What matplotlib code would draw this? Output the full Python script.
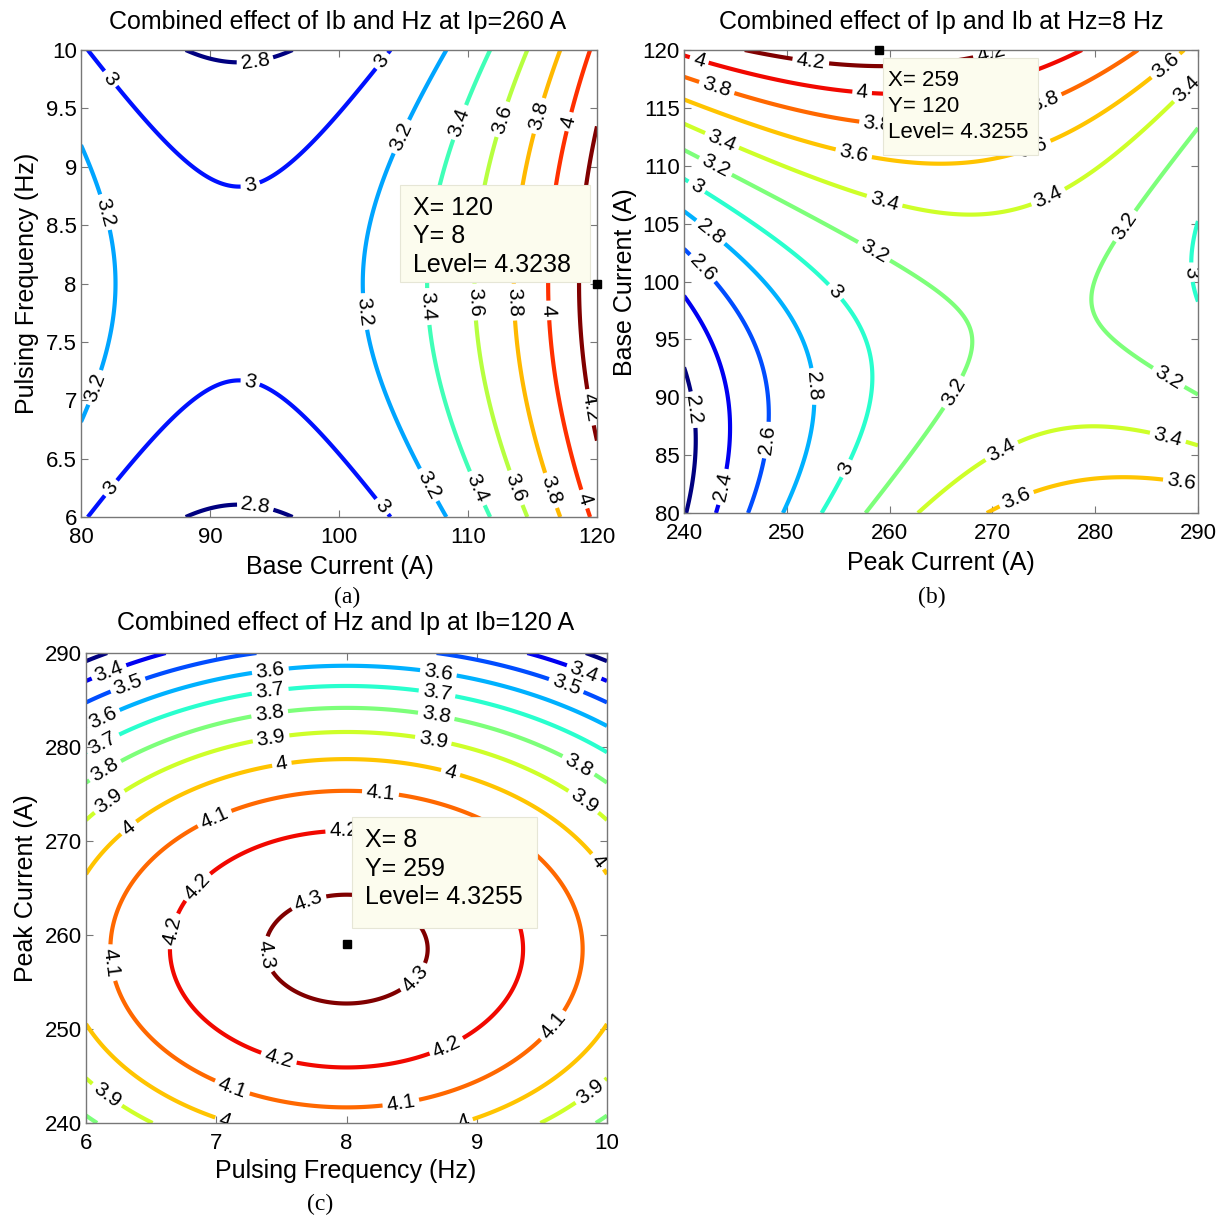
import numpy as np
import matplotlib.pyplot as plt
from matplotlib.patches import Rectangle
from matplotlib.ticker import FormatStrFormatter

plt.rcParams['font.family'] = ['Liberation Sans', 'DejaVu Sans']

# fitted response surface, coded about Ip=260 A, Ib=100 A, Hz=8 Hz
centre = {'Ip': 260.0, 'Ib': 100.0, 'Hz': 8.0}
b0 = 3.147
b_lin = {'Ip': 0.0186, 'Ib': 0.0257, 'Hz': 0.0}
b_sq = {'Ip': -0.0008, 'Ib': 0.00166, 'Hz': -0.069}
b_ip_ib = -0.00105

ip_range = [240, 290]
ib_range = [80, 120]
hz_range = [6, 10]

levels_a = [2.8, 3.0, 3.2, 3.4, 3.6, 3.8, 4.0, 4.2]
levels_b = [2.2, 2.4, 2.6, 2.8, 3.0, 3.2, 3.4, 3.6, 3.8, 4.0, 4.2]
levels_c = [3.3, 3.4, 3.5, 3.6, 3.7, 3.8, 3.9, 4.0, 4.1, 4.2, 4.3]

# data tips: x, y, level
tip_a = (120, 8, 4.3238)
tip_b = (259, 120, 4.3255)
tip_c = (8, 259, 4.3255)

titles = ['Combined effect of Ib and Hz at Ip=260 A',
          'Combined effect of Ip and Ib at Hz=8 Hz',
          'Combined effect of Hz and Ip at Ib=120 A']


def strength(ip, ib, hz):
    p = ip - centre['Ip']
    q = ib - centre['Ib']
    h = hz - centre['Hz']
    return (b0 + b_lin['Ip'] * p + b_lin['Ib'] * q + b_lin['Hz'] * h
            + b_sq['Ip'] * p ** 2 + b_sq['Ib'] * q ** 2 + b_sq['Hz'] * h ** 2
            + b_ip_ib * p * q)


W, H = 1224, 1222
fig = plt.figure(figsize=(W / 100, H / 100), dpi=100)


def rect(l, t, r, b):
    return [l / W, 1 - b / H, (r - l) / W, (b - t) / H]


def ftext(x, y, s, **kw):
    fig.text(x / W, 1 - y / H, s, ha='center', va='center', **kw)


def style(ax, xt, yt):
    ax.set_xticks(xt)
    ax.set_yticks(yt)
    ax.yaxis.set_major_formatter(FormatStrFormatter('%g'))
    ax.xaxis.set_major_formatter(FormatStrFormatter('%g'))
    ax.tick_params(direction='in', top=True, right=True, length=5, width=0.8,
                   color='#777777', labelsize=16)
    ax.tick_params(axis='x', pad=7)
    ax.tick_params(axis='y', pad=3)
    for sp in ax.spines.values():
        sp.set_color('#777777')
        sp.set_linewidth(1.0)


def datatip(ax, tip, box, fs, pad, step):
    x, y, lev = tip
    ax.plot([x], [y], 's', color='k', ms=6, clip_on=False, zorder=20)
    l, t, r, b = box
    fig.add_artist(Rectangle((l / W, 1 - b / H), (r - l) / W, (b - t) / H,
                             transform=fig.transFigure, facecolor='#FCFCEE',
                             edgecolor='#E6E6D6', lw=0.8, zorder=5))
    lines = ['X= %g' % x, 'Y= %g' % y, 'Level= %.4f' % lev]
    for i, s in enumerate(lines):
        fig.text((l + pad) / W, 1 - (t + 23 + i * step) / H, s, ha='left',
                 va='center', fontsize=fs, zorder=6)


def panel(pos, X, Y, Z, levels, labpos):
    ax = fig.add_axes(rect(*pos))
    cs = ax.contour(X, Y, Z, levels=levels, cmap='jet', vmin=min(levels),
                    vmax=max(levels), linewidths=3)
    ax.clabel(cs, manual=labpos, inline=True, inline_spacing=4,
              fontsize=15, fmt='%g', colors='k')
    return ax


# (a) Ib vs Hz at Ip = 260
ib = np.linspace(ib_range[0], ib_range[1], 300)
hz = np.linspace(hz_range[0], hz_range[1], 300)
IBa, HZa = np.meshgrid(ib, hz)
Za = strength(260.0, IBa, HZa)
lab_a = [(93.5, 9.9), (93.5, 6.08), (81.9, 9.72), (93, 8.9), (103.4, 9.9),
         (93, 7.1), (82.3, 6.25), (103, 6.06),
         (81.5, 8.6), (81.3, 7.1), (105, 9.25), (101.2, 7.75), (106.7, 6.26),
         (109.6, 9.37), (106.5, 7.8), (110.4, 6.23),
         (113.1, 9.39), (110.2, 7.84), (113.7, 6.25),
         (116, 9.42), (113.4, 7.84), (116.5, 6.23),
         (118.4, 9.37), (116.4, 7.77), (119.2, 6.16),
         (119.5, 6.94)]
ax_a = panel((81, 50, 597, 517), IBa, HZa, Za, levels_a, lab_a)
style(ax_a, [80, 90, 100, 110, 120], [6, 6.5, 7, 7.5, 8, 8.5, 9, 9.5, 10])
ax_a.set_xlim(ib_range)
ax_a.set_ylim(hz_range)
datatip(ax_a, tip_a, (400, 185, 590, 282), 18, 13, 28.5)

# (b) Ip vs Ib at Hz = 8
ip = np.linspace(ip_range[0], ip_range[1], 300)
ib = np.linspace(ib_range[0], ib_range[1], 300)
IPb, IBb = np.meshgrid(ip, ib)
Zb = strength(IPb, IBb, 8.0)
lab_b = [(252.3, 118.8), (270, 119.3),
         (241.4, 118.9), (257.3, 116.0),
         (243.2, 116.8), (258.8, 113.3), (275, 115.7),
         (256.4, 110.6), (274.3, 110.8), (287, 118.5),
         (243.8, 112.4), (259.3, 106.3), (275.6, 107), (289, 116.6),
         (243.5, 110.7), (258.1, 102), (283.4, 104.5), (265.9, 90.6), (287, 91.5),
         (271, 85.2), (287, 86.3),
         (272.4, 81.1), (288.3, 82.2),
         (240.9, 107.7), (254.2, 98.7), (256.1, 83.7), (289.4, 100.8),
         (242.5, 104.2), (252, 90.9),
         (240.9, 100.4), (248, 86.3),
         (244, 82.2),
         (240.7, 88.9)]
ax_b = panel((684, 50, 1198, 513), IPb, IBb, Zb, levels_b, lab_b)
style(ax_b, [240, 250, 260, 270, 280, 290], [80, 85, 90, 95, 100, 105, 110, 115, 120])
ax_b.set_xlim(ip_range)
ax_b.set_ylim(ib_range)
datatip(ax_b, tip_b, (883, 58, 1038, 155), 16, 5, 26)

# (c) Hz vs Ip at Ib = 120
hz = np.linspace(hz_range[0], hz_range[1], 300)
ip = np.linspace(ip_range[0], ip_range[1], 300)
HZc, IPc = np.meshgrid(hz, ip)
Zc = strength(IPc, 120.0, HZc)
lab_c = [(6.19, 287.5), (9.8, 287.1),
         (6.33, 286.3), (9.67, 285.9),
         (6.13, 283.1), (7.42, 287.6), (8.7, 287.4),
         (6.13, 280.4), (7.42, 285.3), (8.69, 285.3),
         (6.16, 277.2), (7.42, 282.6), (8.68, 282.6), (9.8, 278.5),
         (6.2, 273.8), (7.42, 281), (8.67, 281), (9.82, 274.2), (6.13, 242.4), (9.88, 243.2),
         (6.34, 271.2), (7.51, 277.6), (8.79, 276.8), (9.9, 267.5), (7.06, 240.1), (8.9, 240),
         (7.0, 272), (8.26, 275), (6.17, 257), (7.11, 243.3), (8.42, 241.9), (9.6, 250.2),
         (6.88, 264.8), (7.98, 270.4), (6.7, 260.3), (7.47, 246.4), (8.78, 247.8),
         (7.71, 263.5), (7.37, 257.9), (8.54, 255.2)]
ax_c = panel((86, 653, 607, 1123), HZc, IPc, Zc, levels_c, lab_c)
style(ax_c, [6, 7, 8, 9, 10], [240, 250, 260, 270, 280, 290])
ax_c.set_xlim(hz_range)
ax_c.set_ylim(ip_range)
datatip(ax_c, tip_c, (352, 817, 537, 928), 18, 13, 28.5)

# titles, axis labels, captions
ftext(338, 22, titles[0], fontsize=18)
ftext(941, 22, titles[1], fontsize=18)
ftext(346, 623, titles[2], fontsize=18)

ftext(340, 567, 'Base Current (A)', fontsize=18)
ftext(941, 563, 'Peak Current (A)', fontsize=18)
ftext(346, 1171, 'Pulsing Frequency (Hz)', fontsize=18)

ftext(27, 283, 'Pulsing Frequency (Hz)', fontsize=18, rotation=90)
ftext(625, 282, 'Base Current (A)', fontsize=18, rotation=90)
ftext(26, 888, 'Peak Current (A)', fontsize=18, rotation=90)

ftext(347, 597, '(a)', fontsize=17, family='Liberation Serif')
ftext(932, 597, '(b)', fontsize=17, family='Liberation Serif')
ftext(320, 1204, '(c)', fontsize=17, family='Liberation Serif')

fig.savefig('out.png', dpi=100)
